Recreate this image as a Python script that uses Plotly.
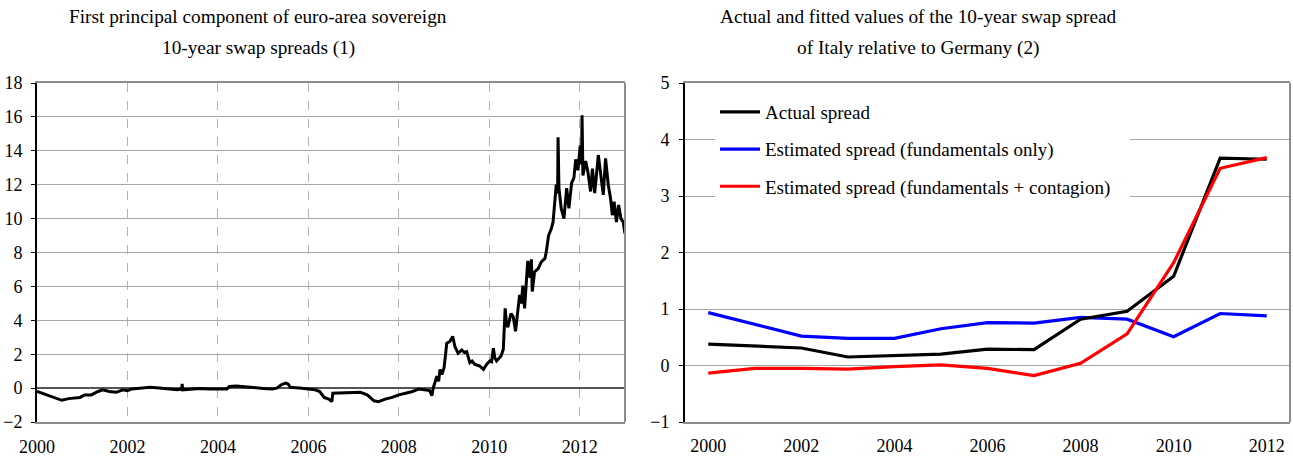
import plotly.graph_objects as go

# ---------------- Data ----------------
# Left panel: first principal component, x in fractional years
pc_years = [2000.00, 2000.10, 2000.25, 2000.40, 2000.55, 2000.70, 2000.85, 2000.95, 2001.05, 2001.20,
            2001.35, 2001.45, 2001.60, 2001.75, 2001.90, 2002.00, 2002.10, 2002.30, 2002.50, 2002.70,
            2002.90, 2003.10, 2003.20, 2003.21, 2003.22, 2003.40, 2003.60, 2003.80, 2004.00, 2004.20,
            2004.25, 2004.40, 2004.60, 2004.80, 2005.00, 2005.20, 2005.30, 2005.40, 2005.50, 2005.55,
            2005.60, 2005.80, 2006.00, 2006.15, 2006.25, 2006.35, 2006.45, 2006.52, 2006.54, 2006.80,
            2007.00, 2007.15, 2007.30, 2007.45, 2007.55, 2007.70, 2007.85, 2008.00, 2008.15, 2008.30,
            2008.45, 2008.58, 2008.68, 2008.73, 2008.76, 2008.84, 2008.88, 2008.91, 2008.95, 2009.00,
            2009.06, 2009.13, 2009.19, 2009.24, 2009.31, 2009.39, 2009.45, 2009.50, 2009.57, 2009.62,
            2009.68, 2009.74, 2009.79, 2009.87, 2009.94, 2010.01, 2010.05, 2010.09, 2010.12, 2010.16,
            2010.22, 2010.26, 2010.31, 2010.35, 2010.38, 2010.41, 2010.48, 2010.53, 2010.58, 2010.64,
            2010.67, 2010.71, 2010.74, 2010.78, 2010.82, 2010.85, 2010.90, 2010.93, 2010.95, 2011.00,
            2011.08, 2011.15, 2011.23, 2011.26, 2011.31, 2011.37, 2011.41, 2011.45, 2011.48, 2011.51,
            2011.52, 2011.54, 2011.59, 2011.65, 2011.71, 2011.76, 2011.82, 2011.87, 2011.91, 2011.96,
            2012.01, 2012.04, 2012.05, 2012.07, 2012.13, 2012.18, 2012.24, 2012.28, 2012.33, 2012.41,
            2012.46, 2012.52, 2012.57, 2012.63, 2012.68, 2012.72, 2012.76, 2012.81, 2012.86, 2012.91,
            2012.96, 2013.00]
pc_values = [-0.20, -0.30, -0.45, -0.60, -0.72, -0.62, -0.60, -0.55, -0.40, -0.40,
             -0.20, -0.10, -0.20, -0.25, -0.10, -0.15, -0.05, 0.00, 0.05, 0.00,
             -0.05, -0.10, -0.05, 0.25, -0.10, -0.08, -0.02, -0.05, -0.05, -0.05,
             0.10, 0.12, 0.08, 0.02, -0.02, -0.05, 0.00, 0.20, 0.30, 0.25,
             0.05, 0.00, -0.05, -0.10, -0.20, -0.55, -0.65, -0.80, -0.30, -0.28,
             -0.25, -0.25, -0.40, -0.75, -0.80, -0.65, -0.55, -0.40, -0.30, -0.20,
             -0.05, -0.10, -0.15, -0.45, 0.00, 0.70, 0.40, 1.10, 0.80, 1.20,
             2.65, 2.75, 3.05, 2.45, 2.05, 2.25, 2.10, 2.15, 1.50, 1.60,
             1.40, 1.35, 1.30, 1.10, 1.40, 1.60, 1.55, 2.35, 1.80, 1.60,
             1.80, 1.90, 2.30, 4.70, 3.80, 3.60, 4.40, 4.20, 3.35, 4.70,
             5.50, 5.00, 6.05, 4.70, 6.60, 7.50, 6.50, 7.60, 5.70, 6.85,
             7.05, 7.45, 7.65, 8.05, 9.00, 9.40, 9.80, 11.00, 12.00, 11.50,
             14.80, 11.80, 10.60, 10.00, 11.80, 10.60, 12.10, 12.40, 13.50, 12.85,
             14.30, 13.20, 16.10, 12.55, 13.40, 12.75, 11.60, 12.95, 11.50, 13.75,
             12.60, 11.40, 13.55, 12.00, 11.20, 10.20, 11.00, 9.80, 10.80, 10.00,
             9.80, 9.10]

# Right panel: annual spreads, Italy vs Germany
years = [2000, 2001, 2002, 2003, 2004, 2005, 2006, 2007, 2008, 2009, 2010, 2011, 2012]
actual_spread = [0.38, 0.35, 0.31, 0.15, 0.18, 0.20, 0.29, 0.28, 0.82, 0.96, 1.58, 3.67, 3.65]
fund_only = [0.935, 0.73, 0.52, 0.48, 0.48, 0.65, 0.76, 0.75, 0.85, 0.82, 0.51, 0.92, 0.88]
fund_contagion = [-0.135, -0.05, -0.05, -0.065, -0.02, 0.01, -0.05, -0.18, 0.04, 0.56, 1.82, 3.49, 3.68]

left_ticks_y = [-2, 0, 2, 4, 6, 8, 10, 12, 14, 16, 18]
left_ticks_x = [2000, 2002, 2004, 2006, 2008, 2010, 2012]
right_ticks_y = [-1, 0, 1, 2, 3, 4, 5]
right_ticks_x = [2000, 2002, 2004, 2006, 2008, 2010, 2012]
right_minor_ticks = [2001.5, 2003.5, 2005.5, 2007.5, 2009.5, 2011.5]

title_left = ["First principal component of euro-area sovereign", "10-year swap spreads (1)"]
title_right = ["Actual and fitted values of the 10-year swap spread", "of Italy relative to Germany (2)"]

# ---------------- Layout constants ----------------
W, H = 1293, 456
FONT = "Liberation Serif"
GRID = "#a6a6a6"
BORDER = "#8c8c8c"
PAD = "\u00a0" * 3  # widens the white legend box like the original

xl = [37 / W, 625 / W]
xr = [685 / W, 1290 / W]
yd = [1 - 422 / H, 1 - 83 / H]

fig = go.Figure()

fig.add_trace(go.Scatter(x=pc_years, y=pc_values, mode="lines", xaxis="x", yaxis="y",
                         line=dict(color="black", width=3), showlegend=False))

fig.add_trace(go.Scatter(x=years, y=fund_only, mode="lines", xaxis="x2", yaxis="y2",
                         name="Estimated spread (fundamentals only)", legendgroup="b", legendrank=2,
                         line=dict(color="#0000ff", width=3.2)))
fig.add_trace(go.Scatter(x=years, y=actual_spread, mode="lines", xaxis="x2", yaxis="y2",
                         name="Actual spread", legendgroup="a", legendrank=1,
                         line=dict(color="black", width=3.2)))
fig.add_trace(go.Scatter(x=years, y=fund_contagion, mode="lines", xaxis="x2", yaxis="y2",
                         name="Estimated spread (fundamentals + contagion)" + PAD,
                         legendgroup="c", legendrank=3,
                         line=dict(color="#ff0000", width=3.2)))

tickfont = dict(family=FONT, size=18, color="black")

fig.update_layout(
    width=W, height=H,
    margin=dict(l=0, r=0, t=0, b=0, autoexpand=False),
    paper_bgcolor="white", plot_bgcolor="white",
    font=dict(family=FONT, color="black"),
    xaxis=dict(domain=xl, anchor="y", range=[2000, 2013], tickvals=left_ticks_x, automargin=False,
               ticktext=[str(v) for v in left_ticks_x], tickfont=tickfont,
               showgrid=True, gridcolor="#b3b3b3", griddash="dash", gridwidth=1,
               showline=True, linecolor=BORDER, linewidth=2, mirror=True,
               ticks="", ticklabelstandoff=7, zeroline=False),
    yaxis=dict(domain=yd, anchor="x", range=[-2, 18], tickvals=left_ticks_y, tickfont=tickfont,
               automargin=False,
               showgrid=True, gridcolor=GRID, gridwidth=1,
               zeroline=True, zerolinecolor="#555555", zerolinewidth=1.5,
               showline=True, linecolor="black", linewidth=2,
               ticks="outside", ticklen=4, tickcolor="black", ticklabelstandoff=5),
    xaxis2=dict(domain=xr, anchor="y2", range=[1999.5, 2012.5], tickvals=right_ticks_x,
                automargin=False,
                ticktext=[str(v) for v in right_ticks_x], tickfont=tickfont,
                showgrid=False, showline=True, linecolor=BORDER, linewidth=2, mirror=True,
                ticks="", ticklabelstandoff=6, zeroline=False),
    yaxis2=dict(domain=yd, anchor="x2", range=[-1, 5], tickvals=right_ticks_y, tickfont=tickfont,
                automargin=False,
                showgrid=True, gridcolor=GRID, gridwidth=1, zeroline=False,
                showline=True, linecolor="black", linewidth=2,
                ticks="outside", ticklen=4, tickcolor="black", ticklabelstandoff=6),
    xaxis3=dict(domain=xr, overlaying="x2", anchor="free", automargin=False,
                position=yd[0] + (yd[1] - yd[0]) / 6.0,
                range=[1999.5, 2012.5], tickvals=right_minor_ticks,
                showticklabels=False, ticks="inside", ticklen=4, tickcolor="#555555", tickwidth=1.5,
                showline=True, linecolor="#666666", linewidth=1.5, showgrid=False, zeroline=False),
    legend=dict(x=715 / W, y=1 - 93 / H, xanchor="left", yanchor="top",
                bgcolor="white", borderwidth=0,
                font=dict(family=FONT, size=19, color="black"),
                traceorder="grouped", tracegroupgap=9.5, itemwidth=40),
    showlegend=True,
)

# right borders (gray) of both panels
for xa, ya in (("x", "y"), ("x2", "y2")):
    fig.add_shape(type="line", xref=f"{xa} domain", yref=f"{ya} domain", x0=1, x1=1, y0=0, y1=1,
                  line=dict(color=BORDER, width=2), layer="above")

# titles
def add_title(lines, xc):
    for i, t in enumerate(lines):
        fig.add_annotation(text=t, x=xc / W, y=1 - (17 + 31 * i) / H, xref="paper", yref="paper",
                           xanchor="center", yanchor="middle", showarrow=False,
                           font=dict(family=FONT, size=19.3, color="black"))

add_title(title_left, 258)
add_title(title_right, 918)

fig.write_html("out.html", config={"displayModeBar": False},
               post_script="document.body.style.margin='0';document.body.style.overflow='hidden';")
